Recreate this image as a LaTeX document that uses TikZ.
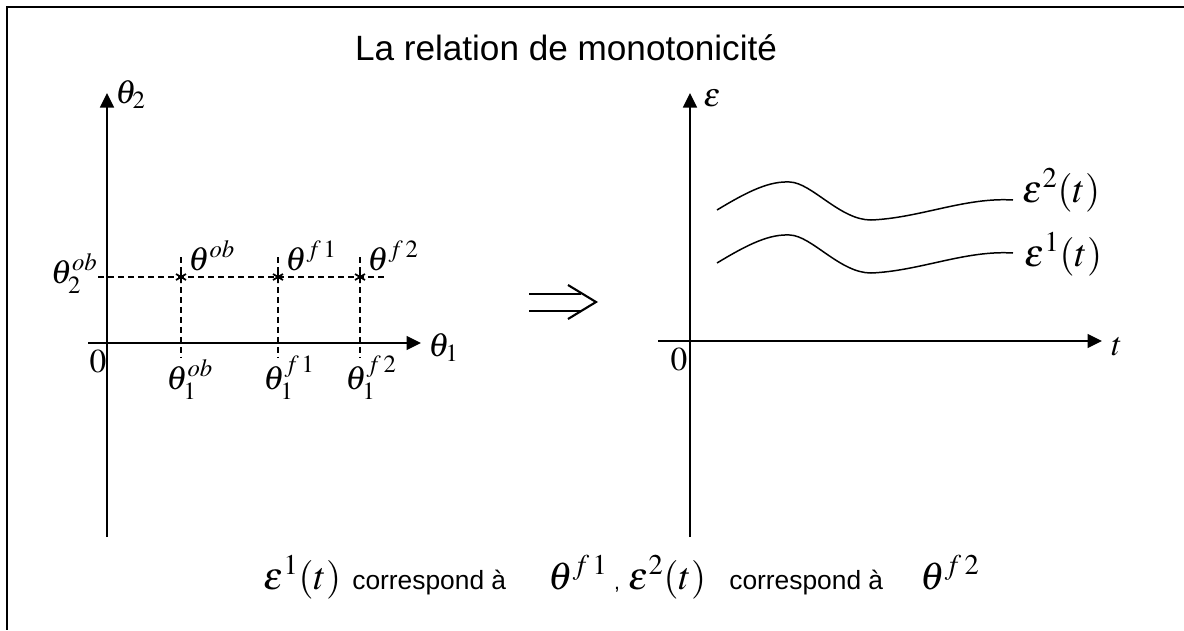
\documentclass[tikz,border=0pt]{standalone}
\usepackage{mathptmx}
\usepackage[no-math]{fontspec}
\setmainfont{Liberation Sans}
\usetikzlibrary{arrows.meta}
\tikzset{
 axis/.style={-{Triangle[length=2.9mm,width=2.8mm]},line width=0.85pt},
 guide/.style={dash pattern=on 1.2mm off 0.8mm,line width=0.7pt},
 curve/.style={line width=0.85pt},
 frame/.style={line width=1.2pt},
 lab/.style={inner sep=0pt,font=\fontsize{19}{19}\selectfont},
 biglab/.style={inner sep=0pt,font=\fontsize{22}{22}\selectfont},
 txt/.style={inner sep=0pt,font=\fontsize{15}{15}\selectfont},
 starln/.style={line width=1pt}
}
\begin{document}
\begin{tikzpicture}[x=0.02cm,y=-0.02cm]
\useasboundingbox (0,0) rectangle (1184,630);
\draw[frame] (1184,7) -- (7,7) -- (7,630);
\node[inner sep=0pt,font=\fontsize{20}{20}\selectfont,anchor=base] (title) at (566,60) {La relation de monotonicit\'e};
% left plane
\coordinate (ly0) at (107,537); \coordinate (ly1) at (107,93);
\coordinate (lx0) at (88,343); \coordinate (lx1) at (421,343);
\draw[axis] (ly0) -- (ly1);
\draw[axis] (lx0) -- (lx1);
\node[lab,anchor=base west] (th2) at (115,103) {$\theta_2$};
\node[lab,anchor=base west] (th1) at (428,356) {$\theta_1$};
\node[lab,anchor=base] (o1) at (98,372) {$0$};
\coordinate (h0) at (98,277); \coordinate (h1) at (387,277);
\draw[guide] (h0) -- (h1);
\node[lab,anchor=base east] (t2ob) at (98,283) {$\theta_2^{ob}$};
\foreach \x/\n/\s in {181/ob/ob,278/f1/f\,1,360/f2/f\,2}{
  \coordinate (v\n0) at (\x,257); \coordinate (v\n1) at (\x,358);
  \draw[guide] (v\n0) -- (v\n1);
  \coordinate (s\n) at (\x,277);
  \draw[starln] (s\n) +(0,-6) -- +(0,6) +(-5,-3) -- +(5,3) +(-5,3) -- +(5,-3);
  \node[lab,anchor=base west] (up\n) at (\x+7,270) {$\theta^{\s}$};
  \node[lab,anchor=base west] (lo\n) at (\x-15,389) {$\theta_1^{\s}$};
}
% implication
\coordinate (imp) at (596,302);
\draw[frame] (529,294) -- (581,294) (529,311) -- (581,311);
\draw[frame,line join=miter] (568,285) -- (imp) -- (568,319);
% right plane
\coordinate (ry0) at (690,537); \coordinate (ry1) at (690,93);
\coordinate (rx0) at (658,341); \coordinate (rx1) at (1102,341);
\draw[axis] (ry0) -- (ry1);
\draw[axis] (rx0) -- (rx1);
\node[lab,anchor=base west] (eps) at (703,106) {$\varepsilon$};
\node[lab,anchor=base west] (tt) at (1111,355) {$t$};
\node[lab,anchor=base] (o2) at (679,370) {$0$};
\foreach \dy/\n in {0/2,53/1}{
  \draw[curve] (717,210+\dy) .. controls (750,190+\dy) and (770,181+\dy) .. (790,182+\dy)
    .. controls (812,183+\dy) and (840,220+\dy) .. (871,220+\dy)
    .. controls (920,218+\dy) and (965,197+\dy) .. (1013,200+\dy);
}
\node[biglab,anchor=base west] (e2) at (1022,202) {$\varepsilon^2(t)$};
\node[biglab,anchor=base west] (e1) at (1024,266) {$\varepsilon^1(t)$};
% bottom line
\node[biglab,anchor=base west] (b1) at (263,589) {$\varepsilon^1(t)$};
\node[txt,anchor=base west] (b2) at (352,589) {correspond \`a};
\node[biglab,anchor=base west] (b3) at (548,589) {$\theta^{f\,1}$\,{\fontsize{12}{12}\selectfont,}};
\node[biglab,anchor=base west] (b4) at (628,589) {$\varepsilon^2(t)$};
\node[txt,anchor=base west] (b5) at (729,589) {correspond \`a};
\node[biglab,anchor=base west] (b6) at (920,589) {$\theta^{f\,2}$};
\end{tikzpicture}
\end{document}
